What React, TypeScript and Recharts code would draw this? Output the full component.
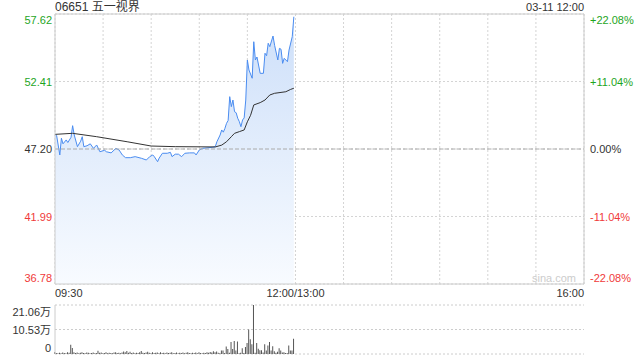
import React from 'react';
import { ComposedChart, Area, Line, Bar, XAxis, YAxis, CartesianGrid, ReferenceLine } from 'recharts';

const title = '06651 五一视界';
const stamp = '03-11 12:00';
const prevClose = 47.2;
const priceTicks = [57.62, 52.41, 47.2, 41.99, 36.78];
const priceTickLabels = ['57.62', '52.41', '47.20', '41.99', '36.78'];
const pctTickLabels = ['+22.08%', '+11.04%', '0.00%', '-11.04%', '-22.08%'];
const timeTicks = [0, 30, 60, 90, 120, 150, 180, 210, 240, 270, 300, 330];
const timeLabels: Record<number, string> = { 0: '09:30', 150: '12:00/13:00', 330: '16:00' };
const volTicks = [0, 10.53, 21.06];
const volTickLabels = ['0', '10.53万', '21.06万'];

const priceMinutes = [0, 1, 3, 4, 5, 7, 8, 10, 11, 12, 14, 16, 17, 18, 20, 22, 24, 26, 28, 31, 32, 35, 38, 40, 42, 44, 47, 50, 54, 57, 59, 61, 62, 64, 65, 67, 70, 72, 73, 75, 77, 79, 81, 84, 87, 88, 90, 92, 98, 100, 101, 103, 104, 105, 106, 107, 108, 109, 110, 111, 112, 113, 114, 115, 116, 117, 118, 119, 120, 121, 123, 124, 125, 126, 128, 130, 131, 132, 133, 134, 136, 137, 139, 140, 141, 142, 143, 145, 146, 148, 149];
const priceValues = [48.33, 48.25, 46.74, 48.03, 47.6, 47.9, 47.7, 48.1, 49.0, 48.28, 47.38, 47.8, 48.15, 47.38, 47.45, 47.6, 47.25, 47.51, 46.99, 47.1, 46.99, 46.9, 47.25, 47.12, 46.74, 46.53, 46.53, 46.61, 46.48, 46.35, 46.6, 46.74, 46.6, 46.22, 46.5, 46.87, 46.87, 46.94, 46.61, 46.8, 46.8, 46.61, 46.87, 46.9, 46.9, 46.74, 47.12, 47.25, 47.33, 47.38, 47.76, 48.28, 48.67, 48.5, 48.79, 49.18, 49.4, 51.24, 50.47, 50.98, 50.08, 50.0, 49.57, 49.31, 48.92, 49.44, 49.6, 50.98, 54.07, 53.3, 52.66, 55.48, 54.07, 54.3, 53.04, 53.04, 54.59, 54.4, 55.36, 55.1, 55.92, 55.2, 54.07, 54.97, 54.9, 53.81, 54.2, 53.94, 54.84, 55.87, 57.41];

const avgMinutes = [0, 11, 26, 45, 60, 75, 100, 104, 107, 110, 112, 115, 118, 120, 122, 124, 128, 131, 134, 137, 144, 147, 149];
const avgValues = [48.33, 48.41, 48.15, 47.76, 47.43, 47.38, 47.36, 47.5, 47.76, 48.15, 48.41, 48.54, 48.67, 49.3, 49.8, 50.6, 50.78, 50.98, 51.37, 51.5, 51.62, 51.8, 51.89];

// volume in 万, one value per minute from 09:30
const volumes = [
  0.9, 0.4, 0.3, 0.5, 0.3, 0.6, 0.4, 0.3, 0.8, 0.5, 4.0, 2.6, 0.8, 0.4, 0.6, 0.3, 0.5, 0.7, 0.4, 0.3,
  0.6, 0.5, 0.3, 0.4, 0.6, 0.3, 0.4, 1.4, 0.5, 0.6, 0.3, 0.4, 0.7, 0.3, 0.5, 0.4, 0.3, 0.6, 0.8, 0.4,
  0.5, 0.3, 0.6, 1.1, 0.7, 1.3, 0.5, 1.0, 0.4, 0.6, 0.3, 0.5, 0.4, 0.7, 1.3, 0.5, 0.4, 0.6, 1.0, 0.5,
  0.3, 0.7, 0.4, 0.5, 0.6, 0.3, 0.8, 0.4, 0.5, 0.3, 0.6, 0.4, 0.5, 0.7, 0.3, 0.4, 0.6, 0.3, 0.5, 0.4,
  0.6, 0.3, 0.5, 0.7, 0.4, 0.3, 0.5, 0.4, 0.6, 0.3, 0.8, 0.4, 0.3, 0.5, 0.4, 0.7, 0.5, 0.9, 0.6, 1.2,
  0.8, 1.1, 0.5, 0.3, 1.5, 1.5, 0.4, 3.2, 2.2, 0.5, 5.2, 2.2, 5.6, 1.5, 5.4, 0.3, 0.5, 2.5, 0.4, 3.0,
  4.7, 10.5, 6.3, 4.2, 21.06, 0.5, 4.7, 2.3, 1.6, 1.6, 0.6, 4.2, 1.5, 3.7, 5.2, 1.5, 3.3, 1.2, 0.5, 1.0,
  2.5, 1.5, 0.6, 0.8, 0.4, 0.4, 3.7, 1.5, 1.5, 6.6,
];

const minuteSet = Array.from(new Set([...priceMinutes, ...avgMinutes])).sort((a, b) => a - b);
const priceData = minuteSet.map((t) => {
  const pi = priceMinutes.indexOf(t);
  const ai = avgMinutes.indexOf(t);
  return {
    t,
    price: pi >= 0 ? priceValues[pi] : undefined,
    avg: ai >= 0 ? avgValues[ai] : undefined,
  };
});
const volData = volumes.map((v, t) => ({ t, v }));

const FONT = "Arial, 'Liberation Sans', 'Noto Sans CJK SC', sans-serif";
const GREEN = '#1ea51e';
const RED = '#f03a3a';
const DARK = '#333333';

const colorFor = (v: number) => (v > prevClose + 0.001 ? GREEN : v < prevClose - 0.001 ? RED : DARK);

const PriceTick = (props: any) => {
  const { y, payload } = props;
  const i = priceTicks.indexOf(payload.value);
  if (i < 0) return null;
  const dy = i === 0 ? 10 : i === priceTicks.length - 1 ? -2 : 4;
  const c = colorFor(payload.value);
  return (
    <g>
      <text x={52} y={y + dy} textAnchor="end" fill={c} fontSize={11} fontFamily={FONT}>
        {priceTickLabels[i]}
      </text>
      <text x={590} y={y + dy} textAnchor="start" fill={c} fontSize={11} fontFamily={FONT}>
        {pctTickLabels[i]}
      </text>
    </g>
  );
};

const TimeTick = (props: any) => {
  const { x, payload } = props;
  const label = timeLabels[payload.value];
  if (!label) return null;
  const anchor = payload.value === 0 ? 'start' : payload.value === 330 ? 'end' : 'middle';
  return (
    <text x={x} y={297} textAnchor={anchor} fill={DARK} fontSize={11} fontFamily={FONT}>
      {label}
    </text>
  );
};

const VolTick = (props: any) => {
  const { y, payload } = props;
  const i = volTicks.indexOf(payload.value);
  if (i < 0) return null;
  const dy = i === volTicks.length - 1 ? 11 : i === 0 ? -2 : 4;
  return (
    <text x={51} y={y + dy} textAnchor="end" fill={DARK} fontSize={11} fontFamily={FONT}>
      {volTickLabels[i]}
    </text>
  );
};

export default function App() {
  return (
    <div style={{ position: 'absolute', left: 0, top: 0, width: 640, height: 360, background: '#fff', fontFamily: FONT }}>
      <div style={{ position: 'absolute', left: 55, top: 0, fontSize: 12, color: DARK, lineHeight: '15px' }}>{title}</div>
      <div style={{ position: 'absolute', right: 56, top: 1, fontSize: 11, color: DARK, lineHeight: '13px' }}>{stamp}</div>
      <div style={{ position: 'absolute', left: 532, top: 272, fontSize: 11, color: '#cccccc', lineHeight: '13px' }}>sina.com</div>
      <div style={{ position: 'absolute', left: 0, top: 0 }}>
        <ComposedChart width={640} height={300} data={priceData} margin={{ top: 14, right: 56, left: 0, bottom: 0 }}>
          <defs>
            <linearGradient id="pfill" x1="0" y1="0" x2="0" y2="1">
              <stop offset="0%" stopColor="#cddff9" />
              <stop offset="100%" stopColor="#f8fbff" />
            </linearGradient>
          </defs>
          <CartesianGrid stroke="#d4d4d4" strokeDasharray="2 2" />
          <XAxis
            dataKey="t"
            type="number"
            domain={[0, 330]}
            ticks={timeTicks}
            interval={0}
            height={16}
            axisLine={{ stroke: '#cccccc' }}
            tickLine={false}
            tick={<TimeTick />}
          />
          <YAxis
            type="number"
            domain={[36.78, 57.62]}
            ticks={priceTicks}
            interval={0}
            width={55}
            allowDataOverflow
            axisLine={{ stroke: '#cccccc' }}
            tickLine={false}
            tick={<PriceTick />}
          />
          <ReferenceLine y={prevClose} stroke="#aaaaaa" strokeDasharray="4 2" />
          <ReferenceLine y={57.62} stroke="#cccccc" />
          <ReferenceLine x={330} stroke="#cccccc" />
          <Area
            type="linear"
            dataKey="price"
            stroke="#4a8cf0"
            strokeWidth={1}
            fill="url(#pfill)"
            fillOpacity={1}
            connectNulls
            dot={false}
            activeDot={false}
            isAnimationActive={false}
          />
          <Line
            type="linear"
            dataKey="avg"
            stroke="#333333"
            strokeWidth={1}
            connectNulls
            dot={false}
            activeDot={false}
            isAnimationActive={false}
          />
        </ComposedChart>
      </div>
      <div style={{ position: 'absolute', left: 0, top: 290 }}>
        <ComposedChart width={640} height={70} data={volData} margin={{ top: 15, right: 56, left: 0, bottom: 6 }}>
          <CartesianGrid stroke="#cccccc" strokeDasharray="2 2" vertical={false} />
          <XAxis dataKey="t" type="number" domain={[0, 330]} hide />
          <YAxis
            type="number"
            domain={[0, 21.06]}
            ticks={volTicks}
            interval={0}
            width={55}
            allowDataOverflow
            axisLine={{ stroke: '#cccccc' }}
            tickLine={false}
            tick={<VolTick />}
          />
          <Bar dataKey="v" fill="#555555" barSize={1} isAnimationActive={false} />
        </ComposedChart>
      </div>
    </div>
  );
}
